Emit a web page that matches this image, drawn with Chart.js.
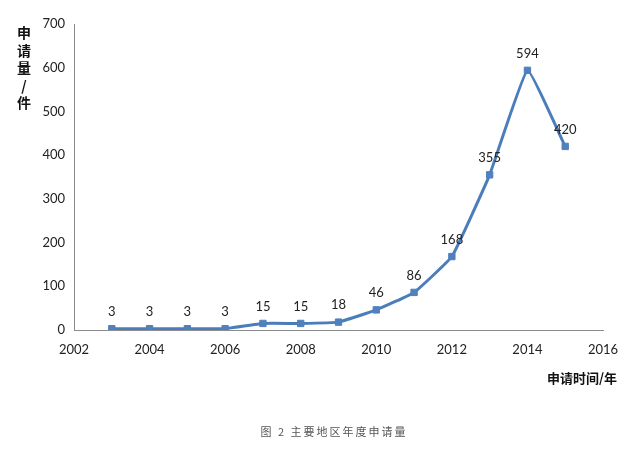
<!DOCTYPE html>
<html>
<head>
<meta charset="utf-8">
<script src="https://cdn.jsdelivr.net/npm/chart.js@4"></script>
<style>
  html, body { margin: 0; padding: 0; background: #fff; }
  #wrap { width: 639px; height: 451px; position: relative; }
</style>
</head>
<body>
<div id="wrap"><canvas id="chart" width="639" height="451"></canvas></div>
<script>
// values
const years = [2003, 2004, 2005, 2006, 2007, 2008, 2009, 2010, 2011, 2012, 2013, 2014, 2015];
const counts = [3, 3, 3, 3, 15, 15, 18, 46, 86, 168, 355, 594, 420];
const yTitleChars = ['申', '请', '量', '/', '件'];
const xTitle = '申请时间/年';
const caption = '图 2 主要地区年度申请量';

const tickFont = { family: 'Lato, "Open Sans", sans-serif', size: 13 };
const cjkFont = '"Noto Sans CJK SC", sans-serif';

// data labels above each point + titles and caption
const extras = {
    id: 'extras',
    afterDatasetsDraw(chart) {
        const ctx = chart.ctx;
        const meta = chart.getDatasetMeta(0);
        ctx.save();
        ctx.fillStyle = '#222';
        ctx.font = '13px Lato, "Open Sans", sans-serif';
        ctx.textAlign = 'center';
        ctx.textBaseline = 'middle';
        meta.data.forEach((pt, i) => {
            ctx.fillText(String(counts[i]), pt.x, pt.y - 17);
        });

        ctx.font = 'bold 14px ' + cjkFont;
        ctx.fillStyle = '#111';
        yTitleChars.forEach((c, i) => {
            ctx.fillText(c, 24, 33 + i * 17.5);
        });

        ctx.textAlign = 'right';
        ctx.font = 'bold 13px ' + cjkFont;
        ctx.fillText(xTitle, 617, 378);

        ctx.textAlign = 'center';
        ctx.font = '11px ' + cjkFont;
        ctx.fillStyle = '#555';
        ctx.letterSpacing = '2px';
        ctx.fillText(caption, 334, 432);
        ctx.restore();
    }
};

new Chart(document.getElementById('chart'), {
    type: 'line',
    data: {
        datasets: [{
            data: years.map((y, i) => ({ x: y, y: counts[i] })),
            borderColor: '#4a7ebb',
            borderWidth: 3,
            pointBackgroundColor: '#4f81bd',
            pointBorderColor: '#4f81bd',
            pointStyle: 'rect',
            pointRadius: 4.5,
            pointHoverRadius: 4.5,
            pointBorderWidth: 1,
            tension: 0.1,
            fill: false
        }]
    },
    options: {
        responsive: false,
        animation: false,
        layout: { padding: { left: 0, top: 24, right: 36, bottom: 91 } },
        plugins: { legend: { display: false }, tooltip: { enabled: false } },
        scales: {
            x: {
                type: 'linear',
                min: 2002,
                max: 2016,
                grid: { display: false, drawTicks: false },
                border: { display: true, color: '#8c8c8c', width: 1 },
                ticks: {
                    stepSize: 2,
                    padding: 12,
                    color: '#222',
                    font: tickFont,
                    callback: v => String(v)
                },
                afterFit: s => { s.height = 30; }
            },
            y: {
                min: 0,
                max: 700,
                grid: { display: false, drawTicks: false },
                border: { display: true, color: '#8c8c8c', width: 1 },
                ticks: {
                    stepSize: 100,
                    padding: 9,
                    color: '#222',
                    font: tickFont
                },
                afterFit: s => { s.width = 74; }
            }
        }
    },
    plugins: [extras]
});
</script>
</body>
</html>
